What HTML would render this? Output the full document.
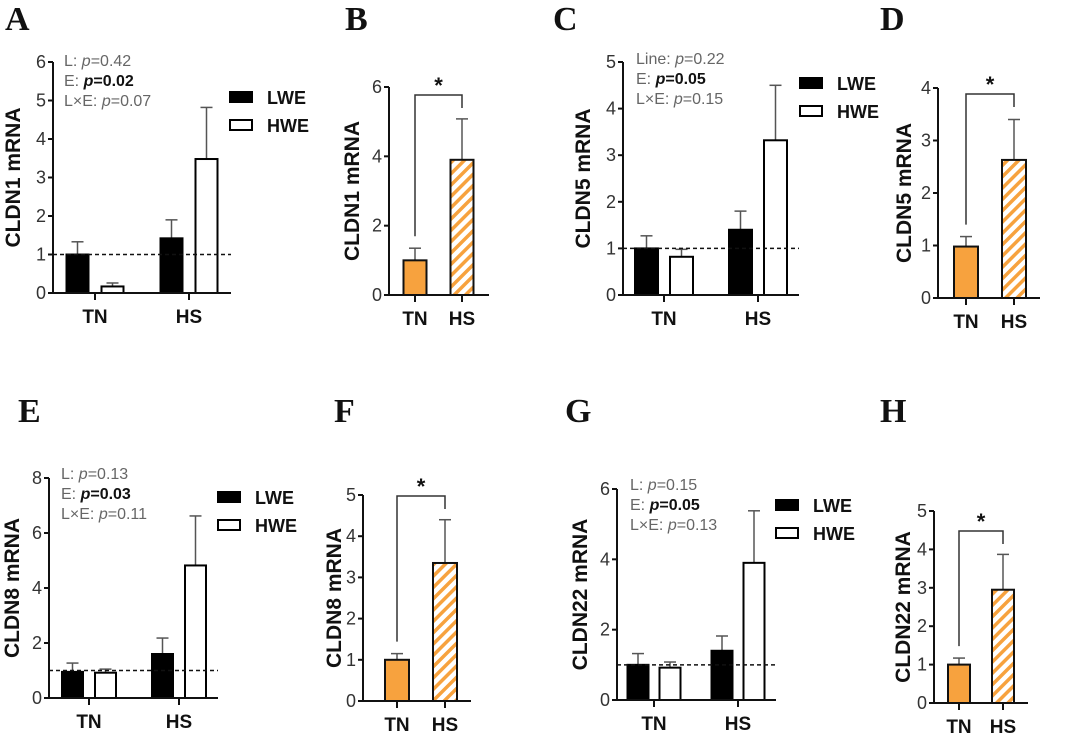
<!DOCTYPE html>
<html><head><meta charset="utf-8"><style>
body{margin:0;background:#fff;}
svg{display:block;font-family:"Liberation Sans",Arial,sans-serif;}
</style></head><body>
<svg id="fig" width="1065" height="734" viewBox="0 0 1065 734">
<defs>
<pattern id="hatch" patternUnits="userSpaceOnUse" width="8" height="8" patternTransform="rotate(45)">
<rect width="8" height="8" fill="#fff"/><rect width="3.5" height="8" fill="#f7a23e"/>
</pattern>
</defs>
</svg>
<script>
// ---- data ----
const categories = ["TN","HS"];
const seriesNames = ["LWE","HWE"];
const aLWE=[1,1.42], aLWEerr=[0.33,0.48], aHWE=[0.17,3.48], aHWEerr=[0.09,1.34];
const bVal=[1,3.9], bErr=[0.35,1.18];
const cLWE=[1,1.4], cLWEerr=[0.27,0.4], cHWE=[0.82,3.32], cHWEerr=[0.16,1.18];
const dVal=[0.98,2.63], dErr=[0.19,0.77];
const eLWE=[0.95,1.6], eLWEerr=[0.32,0.58], eHWE=[0.92,4.82], eHWEerr=[0.13,1.8];
const fVal=[1,3.35], fErr=[0.15,1.05];
const gLWE=[1,1.4], gLWEerr=[0.32,0.42], gHWE=[0.92,3.9], gHWEerr=[0.16,1.48];
const hVal=[1,2.95], hErr=[0.17,0.92];
const aTicks=[0,1,2,3,4,5,6], bTicks=[0,2,4,6], cTicks=[0,1,2,3,4,5], dTicks=[0,1,2,3,4];
const eTicks=[0,2,4,6,8], fTicks=[0,1,2,3,4,5], gTicks=[0,2,4,6], hTicks=[0,1,2,3,4,5];
const statPrefixes=["L: ","E: ","L×E: "];
const cStatPrefixes=["Line: ","E: ","L×E: "];
const statBold=[false,true,false];
const aPvals=["=0.42","=0.02","=0.07"];
const cPvals=["=0.22","=0.05","=0.15"];
const ePvals=["=0.13","=0.03","=0.11"];
const gPvals=["=0.15","=0.05","=0.13"];

const svg=document.getElementById('fig');
const NS="http://www.w3.org/2000/svg";
function el(tag,attrs,parent,text){const e=document.createElementNS(NS,tag);for(const k in attrs)e.setAttribute(k,attrs[k]);if(text!==undefined)e.textContent=text;(parent||svg).appendChild(e);return e;}

function axes(g,p,ticks,yScale){
  let ln=el('line',{x1:p.ax,y1:p.y0,x2:p.ax,y2:p.yTop,stroke:'#111','stroke-width':2},g);
  
  
  ln=el('line',{x1:p.ax,y1:p.y0,x2:p.xEnd,y2:p.y0,stroke:'#111','stroke-width':2},g);
  
  
  ticks.forEach(t=>{
    const y=yScale(t);
    el('line',{x1:p.ax-5,y1:y,x2:p.ax,y2:y,stroke:'#111','stroke-width':2},g);
    const tx=el('text',{x:p.ax-7,y:y+6,'text-anchor':'end','font-size':18,fill:'#333'},g,String(t));
    
    
  });
  const yl=el('text',{transform:`translate(${p.ylx},${(p.y0+p.yTop)/2}) rotate(-90)`,'text-anchor':'middle','font-size':21,'font-weight':'bold',fill:'#111'},g,p.ytitle);
  
  
  const lt=el('text',{x:p.lx,y:p.ly,'font-family':'Liberation Serif,serif','font-size':34,'font-weight':'bold',fill:'#111'},g,p.letter);
  
  
}
function catLabels(g,p,centers){
  categories.forEach((c,i)=>{
    el('line',{x1:centers[i],y1:p.y0,x2:centers[i],y2:p.y0+7,stroke:'#111','stroke-width':2},g);
    const t=el('text',{x:centers[i],y:p.y0+30,'text-anchor':'middle','font-size':19,'font-weight':'bold',fill:'#111'},g,c);
    
    
  });
}
function errBar(g,x,yTop,yBar,cap){
  el('line',{x1:x,y1:yBar,x2:x,y2:yTop,stroke:'#555','stroke-width':1.5},g);
  el('line',{x1:x-cap,y1:yTop,x2:x+cap,y2:yTop,stroke:'#555','stroke-width':1.5},g);
}
function grouped(p,lwe,lweErr,hwe,hweErr,ticks,prefixes,pvals){
  const g=el('g',{});
  
  
  const yS=v=>p.y0-(v/ticks[ticks.length-1])*(p.y0-p.yTop);
  const xS=i=>p.c0+i*(p.c1-p.c0);
  [[lwe,lweErr,'#000',-p.off],[hwe,hweErr,'#fff',p.off]].forEach((s,si)=>{
    s[0].forEach((v,i)=>{
      const cx=xS(i)+s[3];
      errBar(g,cx,yS(v+s[1][i]),yS(v),6);
      const r=el('rect',{x:cx-p.bw/2,y:yS(v),width:p.bw,height:p.y0-yS(v),fill:s[2],stroke:'#000','stroke-width':2},g);
      
      
    });
  });
  axes(g,p,ticks,yS);
  catLabels(g,p,[xS(0),xS(1)]);
  const dl=el('line',{x1:p.ax,y1:yS(1),x2:p.xEnd,y2:yS(1),stroke:'#111','stroke-width':1.5,'stroke-dasharray':'4,3'},g);
  
  
  seriesNames.forEach((n,i)=>{
    const y=p.legY+i*28;
    const r=el('rect',{x:p.legX,y:y-5,width:22,height:10,fill:i?'#fff':'#000',stroke:'#000','stroke-width':2},g);
    
    
    const t=el('text',{x:p.legX+37,y:y+7,'font-size':18,'font-weight':'bold',fill:'#111'},g,n);
    
    
  });
  prefixes.forEach((pre,i)=>{
    const bold=statBold[i];
    const t=el('text',{x:p.sx,y:p.sy+i*20,'font-size':16,fill:'#666'},g);
    
    
    el('tspan',{},t,pre);
    el('tspan',{'font-style':'italic','font-weight':bold?'bold':'normal',fill:bold?'#111':'#666'},t,'p');
    el('tspan',{'font-weight':bold?'bold':'normal',fill:bold?'#111':'#666'},t,pvals[i]);
  });
}
function pair(p,vals,errs,ticks){
  const g=el('g',{});
  
  
  const yS=v=>p.y0-(v/ticks[ticks.length-1])*(p.y0-p.yTop);
  const xS=i=>p.c0+i*(p.c1-p.c0);
  vals.forEach((v,i)=>{
    errBar(g,xS(i),yS(v+errs[i]),yS(v),6);
    const r=el('rect',{x:xS(i)-p.bw/2,y:yS(v),width:p.bw,height:p.y0-yS(v),fill:i?'url(#hatch)':'#f7a23e',stroke:'#111','stroke-width':2},g);
    
    
  });
  axes(g,p,ticks,yS);
  catLabels(g,p,[xS(0),xS(1)]);
  const yb=p.brY;
  const br=el('path',{d:`M${xS(0)},${yS(vals[0]+errs[0])-12} V${yb} H${xS(1)} V${yb+13}`,fill:'none',stroke:'#333','stroke-width':1.5},g);
  
  
  const st=el('text',{x:(xS(0)+xS(1))/2,y:yb-2,'text-anchor':'middle','font-size':22,'font-weight':'bold',fill:'#111'},g,'*');
  
  
}
grouped({letter:'A',lx:5,ly:30,ax:53,y0:293,yTop:62,xEnd:231,c0:95,c1:189,off:17.5,bw:22,legX:230,legY:97,sx:64,sy:66,ylx:20,ytitle:'CLDN1 mRNA'},aLWE,aLWEerr,aHWE,aHWEerr,aTicks,statPrefixes,aPvals);
pair({letter:'B',lx:345,ly:30,ax:389,y0:295,yTop:87,xEnd:489,c0:415,c1:462,bw:23,brY:95,ylx:359,ytitle:'CLDN1 mRNA'},bVal,bErr,bTicks);
grouped({letter:'C',lx:553,ly:30,ax:623,y0:295,yTop:62,xEnd:799,c0:664,c1:758,off:17.5,bw:23,legX:800,legY:83,sx:636,sy:64,ylx:590,ytitle:'CLDN5 mRNA'},cLWE,cLWEerr,cHWE,cHWEerr,cTicks,cStatPrefixes,cPvals);
pair({letter:'D',lx:880,ly:30,ax:938,y0:298,yTop:88,xEnd:1040,c0:966,c1:1014,bw:24,brY:94,ylx:911,ytitle:'CLDN5 mRNA'},dVal,dErr,dTicks);
grouped({letter:'E',lx:18,ly:422,ax:49,y0:698,yTop:478,xEnd:218,c0:89,c1:179,off:16.5,bw:21,legX:218,legY:497,sx:61,sy:479,ylx:19,ytitle:'CLDN8 mRNA'},eLWE,eLWEerr,eHWE,eHWEerr,eTicks,statPrefixes,ePvals);
pair({letter:'F',lx:334,ly:422,ax:363,y0:701,yTop:495,xEnd:471,c0:397,c1:445,bw:24,brY:496,ylx:341,ytitle:'CLDN8 mRNA'},fVal,fErr,fTicks);
grouped({letter:'G',lx:565,ly:422,ax:617,y0:700,yTop:489,xEnd:776,c0:654,c1:738,off:16,bw:21,legX:776,legY:505,sx:630,sy:490,ylx:587,ytitle:'CLDN22 mRNA'},gLWE,gLWEerr,gHWE,gHWEerr,gTicks,statPrefixes,gPvals);
pair({letter:'H',lx:880,ly:422,ax:934,y0:703,yTop:511,xEnd:1028,c0:959,c1:1003,bw:22,brY:531,ylx:910,ytitle:'CLDN22 mRNA'},hVal,hErr,hTicks);
</script>
</body></html>
